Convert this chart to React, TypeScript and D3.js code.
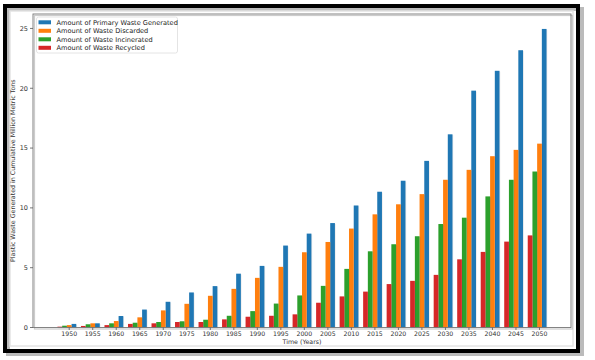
import React from "react";
import * as d3 from "d3";

const years = ["1950", "1955", "1960", "1965", "1970", "1975", "1980", "1985", "1990", "1995", "2000",
  "2005", "2010", "2015", "2020", "2025", "2030", "2035", "2040", "2045", "2050"];
const primary = [0.3, 0.35, 0.96, 1.5, 2.15, 2.93, 3.46, 4.5, 5.15, 6.85, 7.85, 8.73, 10.2, 11.35, 12.27, 13.93, 16.15, 19.8, 21.46, 23.18, 24.96];
const discarded = [0.2, 0.35, 0.54, 0.85, 1.43, 1.98, 2.65, 3.23, 4.15, 5.07, 6.29, 7.15, 8.27, 9.46, 10.3, 11.15, 12.35, 13.18, 14.32, 14.85, 15.37];
const incinerated = [0.15, 0.27, 0.35, 0.4, 0.46, 0.52, 0.65, 0.98, 1.37, 2.0, 2.68, 3.48, 4.9, 6.37, 6.96, 7.63, 8.65, 9.18, 10.96, 12.35, 13.04];
const recycled = [0.07, 0.13, 0.2, 0.3, 0.35, 0.46, 0.46, 0.68, 0.9, 0.98, 1.1, 2.07, 2.6, 3.0, 3.63, 3.9, 4.4, 5.7, 6.32, 7.18, 7.7];
const yTicks = [0, 5, 10, 15, 20, 25];

// drawn left to right: offset in bar widths from the tick
const series = [
  { name: "Amount of Primary Waste Generated", values: primary, color: "#1f77b4", offset: 1 },
  { name: "Amount of Waste Discarded", values: discarded, color: "#ff7f0e", offset: 0 },
  { name: "Amount of Waste Incinerated", values: incinerated, color: "#2ca02c", offset: -1 },
  { name: "Amount of Waste Recycled", values: recycled, color: "#d62728", offset: -2 },
];

const W = 595;
const H = 360;
const left = 33, right = 571, top = 14, bottom = 327.5;
const barW = 0.2;
const font = "DejaVu Sans, sans-serif";

export default function App() {
  const lo = -2 * barW - barW / 2;
  const hi = years.length - 1 + barW + barW / 2;
  const pad = (hi - lo) * 0.05;
  const x = d3.scaleLinear().domain([lo - pad, hi + pad]).range([left, right]);
  const yMax = d3.max(primary)! * 1.05;
  const y = d3.scaleLinear().domain([0, yMax]).range([bottom, top]);

  return (
    <div style={{ position: "absolute", left: 0, top: 0 }}>
      <svg width={W} height={H} style={{ display: "block" }}>
        <rect width={W} height={H} fill="#fff" />
        {/* screenshot frame */}
        <rect x={8} y={9} width={574} height={345} fill="none" stroke="#bbb" strokeWidth={4} />
        <rect x={5} y={6} width={573} height={345} fill="none" stroke="#000" strokeWidth={4} />
        <rect x={10} y={11} width={563} height={335} fill="none" stroke="#e4e4e4" strokeWidth={1.5} />

        {/* axes box shadow */}
        <rect x={left + 1.5} y={top + 1.5} width={right - left} height={bottom - top} fill="none" stroke="#ccc" strokeWidth={1.2} />

        {series.map(s => (
          <g key={s.name}>
            {s.values.map((v, i) => (
              <g key={i}>
                <rect x={x(i + s.offset * barW - barW / 2) + 0.8} y={y(v) + 0.8}
                  width={x(barW) - x(0)} height={bottom - y(v)} fill="#000" opacity={0.08} />
                <rect x={x(i + s.offset * barW - barW / 2)} y={y(v)}
                  width={x(barW) - x(0)} height={bottom - y(v)} fill={s.color} />
              </g>
            ))}
          </g>
        ))}

        <rect x={left} y={top} width={right - left} height={bottom - top} fill="none" stroke="#777" strokeWidth={0.9} />

        {yTicks.map(t => (
          <g key={t}>
            <line x1={left - 3} x2={left} y1={y(t)} y2={y(t)} stroke="#555" strokeWidth={0.8} />
            <text x={left - 5} y={y(t)} dy="0.35em" textAnchor="end" fontSize={6.5} fontFamily={font} fill="#333">{t}</text>
          </g>
        ))}
        {years.map((yr, i) => (
          <g key={yr}>
            <line x1={x(i)} x2={x(i)} y1={bottom} y2={bottom + 2.5} stroke="#555" strokeWidth={0.8} />
            <text x={x(i)} y={bottom + 8} textAnchor="middle" fontSize={6.2} fontFamily={font} fill="#333">{yr}</text>
          </g>
        ))}

        <text x={(left + right) / 2} y={344} textAnchor="middle" fontSize={6.3} fontFamily={font} fill="#333">Time (Years)</text>
        <text transform={`translate(15,${(top + bottom) / 2}) rotate(-90)`} textAnchor="middle" fontSize={6.3}
          fontFamily={font} fill="#333">Plastic Waste Generated in Cumulative Million Metric Tons</text>

        {/* legend */}
        <rect x={36.5} y={17} width={141} height={36} rx={2} fill="#fff" stroke="#ddd" strokeWidth={0.8} />
        {series.map((s, i) => (
          <g key={s.name} transform={`translate(38.5,${22.3 + i * 8.5})`}>
            <rect x={0} y={-2} width={12.5} height={4} fill={s.color} />
            <text x={18} y={0} dy="0.35em" fontSize={6.6} fontFamily={font} fill="#222">{s.name}</text>
          </g>
        ))}
      </svg>
    </div>
  );
}
